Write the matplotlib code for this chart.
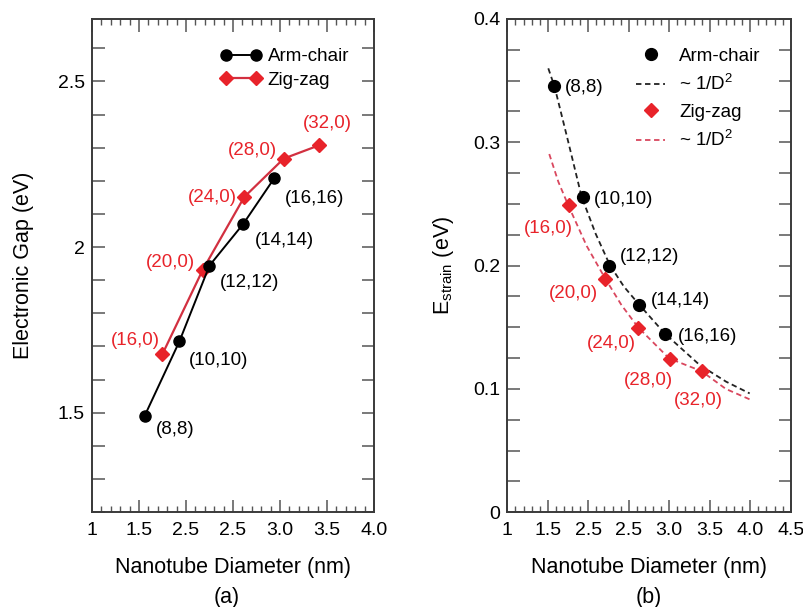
import matplotlib

matplotlib.use("Agg")

import matplotlib.pyplot as plt
from matplotlib.ticker import FixedLocator, MultipleLocator

plt.rcParams["font.family"] = ["Liberation Sans", "DejaVu Sans"]
plt.rcParams["mathtext.fontset"] = "custom"
plt.rcParams["mathtext.rm"] = "Liberation Sans"
plt.rcParams["mathtext.it"] = "Liberation Sans"

# ---- data ----
arm_labels = ["(8,8)", "(10,10)", "(12,12)", "(14,14)", "(16,16)"]
zig_labels = ["(16,0)", "(20,0)", "(24,0)", "(28,0)", "(32,0)"]

# panel (a): electronic gap
gap_arm_d = [1.56, 1.93, 2.25, 2.61, 2.94]
gap_arm_e = [1.49, 1.715, 1.944, 2.07, 2.208]
gap_zig_d = [1.75, 2.18, 2.62, 3.04, 3.415]
gap_zig_e = [1.677, 1.932, 2.151, 2.267, 2.307]

# panel (b): strain energy
strain_arm_d = [1.58, 1.93, 2.25, 2.63, 2.945]
strain_arm_e = [0.346, 0.2556, 0.200, 0.168, 0.1445]
strain_zig_d = [1.76, 2.21, 2.61, 3.01, 3.41]
strain_zig_e = [0.249, 0.189, 0.1494, 0.124, 0.1145]

# ~1/D^2 guide curves, sampled along the drawn dashed lines
fit_arm_d = [1.506, 1.584, 1.752, 1.917, 2.09, 2.266, 2.44, 2.615, 2.944, 3.376, 3.70, 3.993]
fit_arm_e = [0.360, 0.345, 0.3005, 0.256, 0.226, 0.2005, 0.183, 0.1694, 0.145, 0.1194, 0.106, 0.0964]
fit_zig_d = [1.518, 1.63, 1.752, 1.98, 2.205, 2.41, 2.615, 2.998, 3.397, 3.70, 3.993]
fit_zig_e = [0.2905, 0.268, 0.249, 0.216, 0.190, 0.168, 0.150, 0.1248, 0.1145, 0.100, 0.0916]

x_ticks_a = [1.0, 1.5, 2.0, 2.5, 3.0, 3.5, 4.0]
x_ticklabels_a = ["1", "1.5", "2.5", "2.5", "3.0", "3.5", "4.0"]
x_ticks_b = [1.0, 1.5, 2.0, 2.5, 3.0, 3.5, 4.0, 4.5]
x_ticklabels_b = ["1", "1.5", "2.5", "2.5", "3.0", "3.5", "4.0", "4.5"]
y_ticks_a = [1.5, 2.0, 2.5]
y_ticklabels_a = ["1.5", "2", "2.5"]
y_ticks_b = [0.0, 0.1, 0.2, 0.3, 0.4]
y_ticklabels_b = ["0", "0.1", "0.2", "0.3", "0.4"]

# label text positions (data coords)
gap_arm_pos = [(1.89, 1.449), (2.343, 1.657), (2.673, 1.892), (3.043, 2.02), (3.365, 2.148)]
gap_zig_pos = [(1.457, 1.718), (1.833, 1.952), (2.284, 2.15), (2.705, 2.293), (3.507, 2.372)]
strain_arm_pos = [(1.946, 0.3446), (2.439, 0.254), (2.751, 0.2078), (3.14, 0.172), (3.475, 0.1423)]
strain_zig_pos = [(1.506, 0.230), (1.822, 0.1775), (2.287, 0.137), (2.739, 0.1072), (3.364, 0.091)]

RED = "#e8232a"
RED_LINE = "#d23040"
RED_DASH = "#d9475e"
SPINE = "#3a3a3a"
LABEL_FS = 13.5


def style_axes(ax, xticks, xlabels, yticks, ylabels, ymin_step):
    for side in ax.spines.values():
        side.set_color(SPINE)
        side.set_linewidth(1.4)
    ax.xaxis.set_major_locator(FixedLocator(xticks))
    ax.set_xticklabels(xlabels)
    ax.xaxis.set_minor_locator(MultipleLocator(0.1))
    ax.yaxis.set_major_locator(FixedLocator(yticks))
    ax.set_yticklabels(ylabels)
    ax.yaxis.set_minor_locator(MultipleLocator(ymin_step))
    ax.tick_params(axis="both", which="both", direction="in", top=True, right=True,
                   color="#555555", labelsize=14)
    ax.tick_params(axis="x", which="major", length=9, width=1.1, pad=7)
    ax.tick_params(axis="x", which="minor", length=4.5, width=1.0)
    ax.tick_params(axis="y", which="both", length=9, width=1.1, pad=5)


fig = plt.figure(figsize=(8.04, 6.07), dpi=100)
ax_a = fig.add_axes([0.1144, 0.1565, 0.3507, 0.8130])
ax_b = fig.add_axes([0.6310, 0.1560, 0.3525, 0.8127])

# ---- (a) ----
ax_a.plot(gap_arm_d, gap_arm_e, color="black", lw=1.4, marker="o", ms=8,
          mfc="black", mec="black", label="Arm-chair", zorder=3)
ax_a.plot(gap_zig_d, gap_zig_e, color=RED_LINE, lw=1.6, marker="D", ms=7,
          mfc=RED, mec=RED, label="Zig-zag", zorder=2)
for text, (x, y) in zip(arm_labels, gap_arm_pos):
    ax_a.text(x, y, text, ha="center", va="center", fontsize=LABEL_FS, color="black")
for text, (x, y) in zip(zig_labels, gap_zig_pos):
    ax_a.text(x, y, text, ha="center", va="center", fontsize=LABEL_FS, color=RED)
ax_a.set_xlim(1.0, 4.0)
ax_a.set_ylim(1.2, 2.69)
style_axes(ax_a, x_ticks_a, x_ticklabels_a, y_ticks_a, y_ticklabels_a, 0.1)
ax_a.set_xlabel("Nanotube Diameter (nm)", fontsize=15.5, labelpad=13)
ax_a.set_ylabel("Electronic Gap (eV)", fontsize=15.5, labelpad=17)
ax_a.legend(loc="upper left", bbox_to_anchor=(0.455, 0.94), frameon=False,
            fontsize=13.5, numpoints=2, handlelength=2.23, handletextpad=0.3,
            labelspacing=0.33, borderaxespad=0.0, borderpad=0.0)

# ---- (b) ----
ax_b.plot(strain_arm_d, strain_arm_e, linestyle="none", marker="o", ms=8.5,
          mfc="black", mec="black", label="Arm-chair", zorder=3)
ax_b.plot(fit_arm_d, fit_arm_e, color="#222222", lw=1.3, ls=(0, (3, 2)),
          label=r"~ 1/D$^2$", zorder=2)
ax_b.plot(strain_zig_d, strain_zig_e, linestyle="none", marker="D", ms=7.5,
          mfc=RED, mec=RED, label="Zig-zag", zorder=3)
ax_b.plot(fit_zig_d, fit_zig_e, color=RED_DASH, lw=1.3, ls=(0, (3, 2)),
          label=r"~ 1/D$^2$", zorder=2)
for text, (x, y) in zip(arm_labels, strain_arm_pos):
    ax_b.text(x, y, text, ha="center", va="center", fontsize=LABEL_FS, color="black")
for text, (x, y) in zip(zig_labels, strain_zig_pos):
    ax_b.text(x, y, text, ha="center", va="center", fontsize=LABEL_FS, color=RED)
ax_b.set_xlim(1.0, 4.5)
ax_b.set_ylim(0.0, 0.4)
style_axes(ax_b, x_ticks_b, x_ticklabels_b, y_ticks_b, y_ticklabels_b, 0.025)
ax_b.set_xlabel("Nanotube Diameter (nm)", fontsize=15.5, labelpad=13)
ax_b.set_ylabel(r"E$_{\rm strain}$ (eV)", fontsize=15.5, labelpad=12)
ax_b.legend(loc="upper left", bbox_to_anchor=(0.454, 0.942), frameon=False,
            fontsize=13.5, numpoints=1, handlelength=1.55, handletextpad=0.76,
            labelspacing=0.5, borderaxespad=0.0, borderpad=0.0)

fig.text(0.2825, 1 - 597 / 607, "(a)", ha="center", va="center", fontsize=15.5)
fig.text(0.807, 1 - 597 / 607, "(b)", ha="center", va="center", fontsize=15.5)

fig.savefig("out.png", dpi=100)
